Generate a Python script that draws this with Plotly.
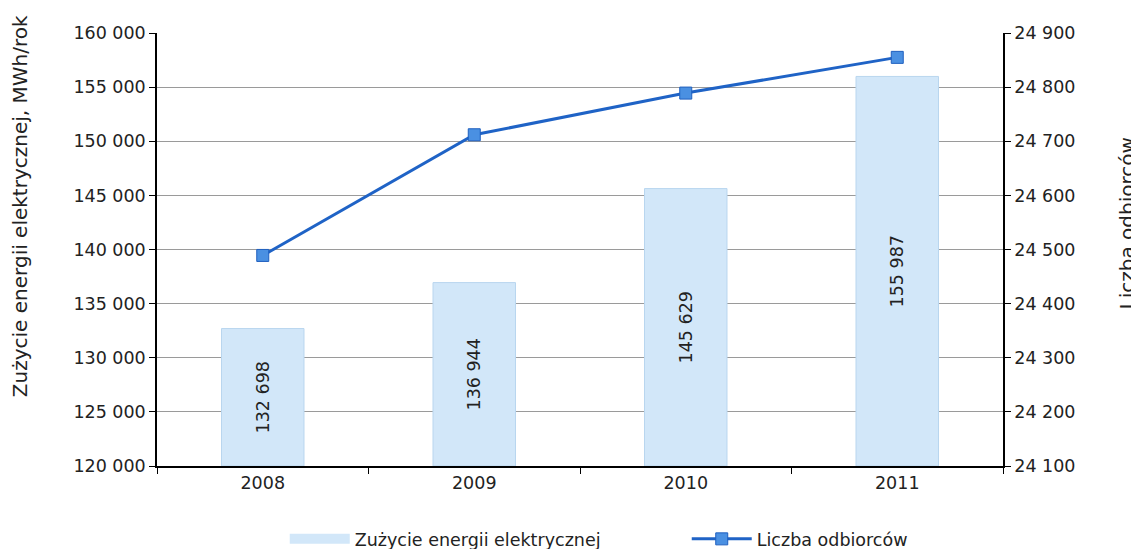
import plotly.graph_objects as go

years = ["2008", "2009", "2010", "2011"]
energy = [132698, 136944, 145629, 155987]
customers = [24489, 24712, 24789, 24855]

left_ticks = list(range(120000, 160001, 5000))
right_ticks = list(range(24100, 24901, 100))
axis_floor = left_ticks[0]

FONT = "DejaVu Sans"
FS = 17.5
BAR_COLOR = "#d2e7f9"

fig = go.Figure()

# legend entry for the bars: wide flat swatch like in the source
fig.add_trace(
    go.Scatter(
        x=[None], y=[None],
        mode="lines",
        line=dict(color=BAR_COLOR, width=10),
        name="Zużycie energii elektrycznej",
        hoverinfo="skip",
    )
)

# bars start at the bottom of the left axis so the labels sit in the visible part
fig.add_trace(
    go.Bar(
        x=years,
        y=[v - axis_floor for v in energy],
        base=axis_floor,
        name="Zużycie energii elektrycznej",
        showlegend=False,
        marker=dict(color=BAR_COLOR, line=dict(color="#b9d6ef", width=1)),
        width=0.39,
        text=[f"{v:,}".replace(",", " ") for v in energy],
        textposition="inside",
        insidetextanchor="middle",
        textangle=-90,
        textfont=dict(family=FONT, size=FS, color="#222222"),
        hovertext=[str(v) for v in energy],
    )
)

fig.add_trace(
    go.Scatter(
        x=years,
        y=customers,
        name="Liczba odbiorców",
        yaxis="y2",
        mode="lines+markers",
        line=dict(color="#1f63c6", width=3),
        marker=dict(symbol="square", size=12, color="#4a90e2",
                    line=dict(color="#1f5fbf", width=1)),
    )
)

# axis titles as annotations, both sit a bit above the middle like in the source
titles = [
    dict(text="Zużycie energii elektrycznej, MWh/rok", x=-0.162, y=0.60),
    dict(text="Liczba odbiorców", x=1.146, y=0.559),
]

fig.update_layout(
    width=1131,
    height=541,
    margin=dict(l=149, r=136, t=25, b=83, autoexpand=False),
    plot_bgcolor="white",
    paper_bgcolor="white",
    separators=", ",
    font=dict(family=FONT, size=FS, color="#222222"),
    bargap=0.61,
    showlegend=True,
    legend=dict(
        orientation="h",
        x=0.151, xanchor="left",
        y=-0.127, yanchor="top",
        font=dict(family=FONT, size=FS, color="#222222"),
        itemwidth=60,
        entrywidth=327,
        traceorder="normal",
    ),
    annotations=[
        dict(text=t["text"], x=t["x"], y=t["y"], xref="paper", yref="paper",
             textangle=-90, showarrow=False, xanchor="center", yanchor="middle",
             font=dict(family=FONT, size=20, color="#222222"))
        for t in titles
    ],
    xaxis=dict(
        type="category",
        categoryorder="array", categoryarray=years,
        showline=True, linecolor="black", linewidth=1.5,
        ticks="outside", tickson="boundaries", ticklen=6, tickcolor="black",
        showgrid=False, automargin=False,
        tickfont=dict(size=FS),
    ),
    yaxis=dict(
        range=[120000, 160000],
        tickvals=left_ticks,
        tickformat=",d",
        showline=True, linecolor="black", linewidth=1.5,
        ticks="outside", ticklen=6, tickcolor="black",
        showgrid=True, gridcolor="#9a9a9a", gridwidth=1,
        zeroline=False, automargin=False,
    ),
    yaxis2=dict(
        overlaying="y",
        side="right",
        range=[24100, 24900],
        tickvals=right_ticks,
        tickformat=",d",
        showline=True, linecolor="black", linewidth=1.5,
        ticks="outside", ticklen=6, tickcolor="black",
        showgrid=False, zeroline=False, automargin=False,
    ),
)

fig.write_html("out.html")
